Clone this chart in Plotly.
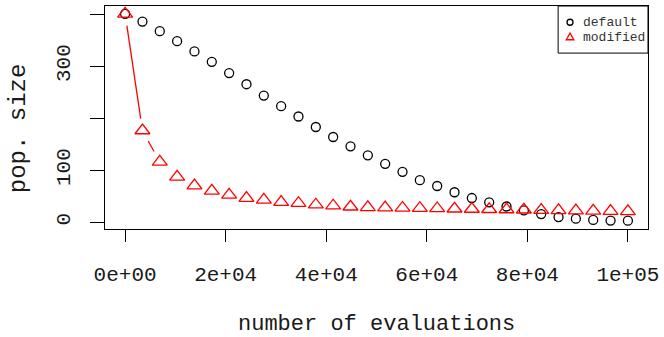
import plotly.graph_objects as go

# ---- data ----
evaluations = [0, 3448, 6897, 10345, 13793, 17241, 20690, 24138, 27586, 31034,
               34483, 37931, 41379, 44828, 48276, 51724, 55172, 58621, 62069, 65517,
               68966, 72414, 75862, 79310, 82759, 86207, 89655, 93103, 96552, 100000]
default_size = [401, 386, 367.5, 348.3, 328.6, 308.7, 287, 265.5, 243.6, 223.3,
                203.4, 183.2, 164, 146, 128.8, 112.4, 97, 81, 69.7, 57.7,
                46.6, 38.3, 30.3, 22.7, 15.7, 10, 6.8, 4.5, 3.2, 3]
modified_size = [401, 176.5, 116, 87.3, 70.4, 60.5, 52.8, 46.5, 42.9, 38.8,
                 36.6, 33.7, 31.8, 29.8, 28.5, 28, 27.5, 27, 26.5, 26,
                 25.5, 25, 24.5, 24, 23.5, 23, 22.5, 22, 21.5, 21]
x_tickvals = [0, 20000, 40000, 60000, 80000, 100000]
x_ticktext = ["0e+00", "2e+04", "4e+04", "6e+04", "8e+04", "1e+05"]
y_tickvals = [0, 100, 200, 300, 400]
y_ticktext = ["0", "100", "", "300", ""]
series_names = ["default", "modified"]

# ---- layout geometry ----
W, H = 664, 337
ML, MR, MT, MB = 105, 11, 5, 108
PW, PH = W - ML - MR, H - MT - MB
XR = [-4000, 104000]
YR = [-13, 416]
FONT = "Liberation Mono"
TXT = "#1a1a1a"

# R type="b": segments between points, trimmed by a gap around each point
GAP = 12.0
sx = PW / (XR[1] - XR[0])
sy = PH / (YR[1] - YR[0])
seg_x, seg_y = [], []
for i in range(len(evaluations) - 1):
    x0, y0 = evaluations[i], modified_size[i]
    x1, y1 = evaluations[i + 1], modified_size[i + 1]
    L = (((x1 - x0) * sx) ** 2 + ((y1 - y0) * sy) ** 2) ** 0.5
    if L > 2 * GAP:
        f = GAP / L
        seg_x += [x0 + f * (x1 - x0), x1 - f * (x1 - x0), None]
        seg_y += [y0 + f * (y1 - y0), y1 - f * (y1 - y0), None]

fig = go.Figure()
fig.add_trace(go.Scatter(
    x=evaluations, y=default_size, mode="markers", name=series_names[0],
    marker=dict(symbol="circle-open", size=9, color="black", line=dict(width=1.3, color="black")),
    showlegend=False))
fig.add_trace(go.Scatter(
    x=seg_x, y=seg_y, mode="lines", line=dict(color="red", width=1.3),
    showlegend=False, hoverinfo="skip"))
fig.add_trace(go.Scatter(
    x=evaluations, y=modified_size, mode="markers", name=series_names[1],
    marker=dict(symbol="triangle-up-open", size=13, color="red", line=dict(width=1.3, color="red")),
    showlegend=False))

def px_x(p):
    return (p - ML) / PW

def px_y(p):
    return (MT + PH - p) / PH

shapes = [
    dict(type="rect", xref="paper", yref="paper", x0=px_x(562.3), x1=1, y0=px_y(52.3), y1=1,
         line=dict(color="black", width=1), fillcolor="white", layer="above"),
    dict(type="circle", xref="paper", yref="paper", xsizemode="pixel", ysizemode="pixel",
         xanchor=px_x(574.3), yanchor=px_y(21.3), x0=-3, x1=3, y0=-3, y1=3,
         line=dict(color="black", width=1.3), layer="above"),
    dict(type="path", xref="paper", yref="paper", xsizemode="pixel", ysizemode="pixel",
         xanchor=px_x(574.3), yanchor=px_y(36.7), path="M-3.8,-2.2 L3.8,-2.2 L0,4.4 Z",
         line=dict(color="red", width=1.3), layer="above"),
]

annotations = [
    dict(text=series_names[0], xref="paper", yref="paper", x=px_x(585), y=px_y(21.3),
         xanchor="left", yanchor="middle", showarrow=False,
         font=dict(family=FONT, size=13, color="#333")),
    dict(text=series_names[1], xref="paper", yref="paper", x=px_x(585), y=px_y(36.7),
         xanchor="left", yanchor="middle", showarrow=False,
         font=dict(family=FONT, size=13, color="#333")),
    dict(text="number of evaluations", xref="paper", yref="paper", x=0.5, y=px_y(325),
         xanchor="center", yanchor="middle", showarrow=False,
         font=dict(family=FONT, size=22, color=TXT)),
    dict(text="pop. size", xref="paper", yref="paper", x=px_x(18), y=px_y(128),
         xanchor="center", yanchor="middle", showarrow=False, textangle=-90,
         font=dict(family=FONT, size=24, color=TXT)),
]

fig.update_layout(
    width=W, height=H,
    margin=dict(l=ML, r=MR, t=MT, b=MB, pad=0),
    paper_bgcolor="white", plot_bgcolor="white",
    font=dict(family=FONT, color=TXT),
    shapes=shapes, annotations=annotations,
    xaxis=dict(range=XR, tickvals=x_tickvals, ticktext=x_ticktext, showgrid=False, zeroline=False,
               showline=True, mirror=True, linecolor="black", linewidth=1,
               ticks="outside", ticklen=12, tickwidth=1, tickcolor="black",
               ticklabeloverflow="allow", ticklabelstandoff=14,
               tickfont=dict(family=FONT, size=21, color=TXT)),
    yaxis=dict(range=YR, tickvals=y_tickvals, ticktext=y_ticktext, showgrid=False, zeroline=False,
               showline=True, mirror=True, linecolor="black", linewidth=1,
               ticks="outside", ticklen=14, tickwidth=1, tickcolor="black", tickangle=-90,
               ticklabeloverflow="allow", ticklabelstandoff=12,
               tickfont=dict(family=FONT, size=21, color=TXT)),
)

fig.write_html("out.html")
